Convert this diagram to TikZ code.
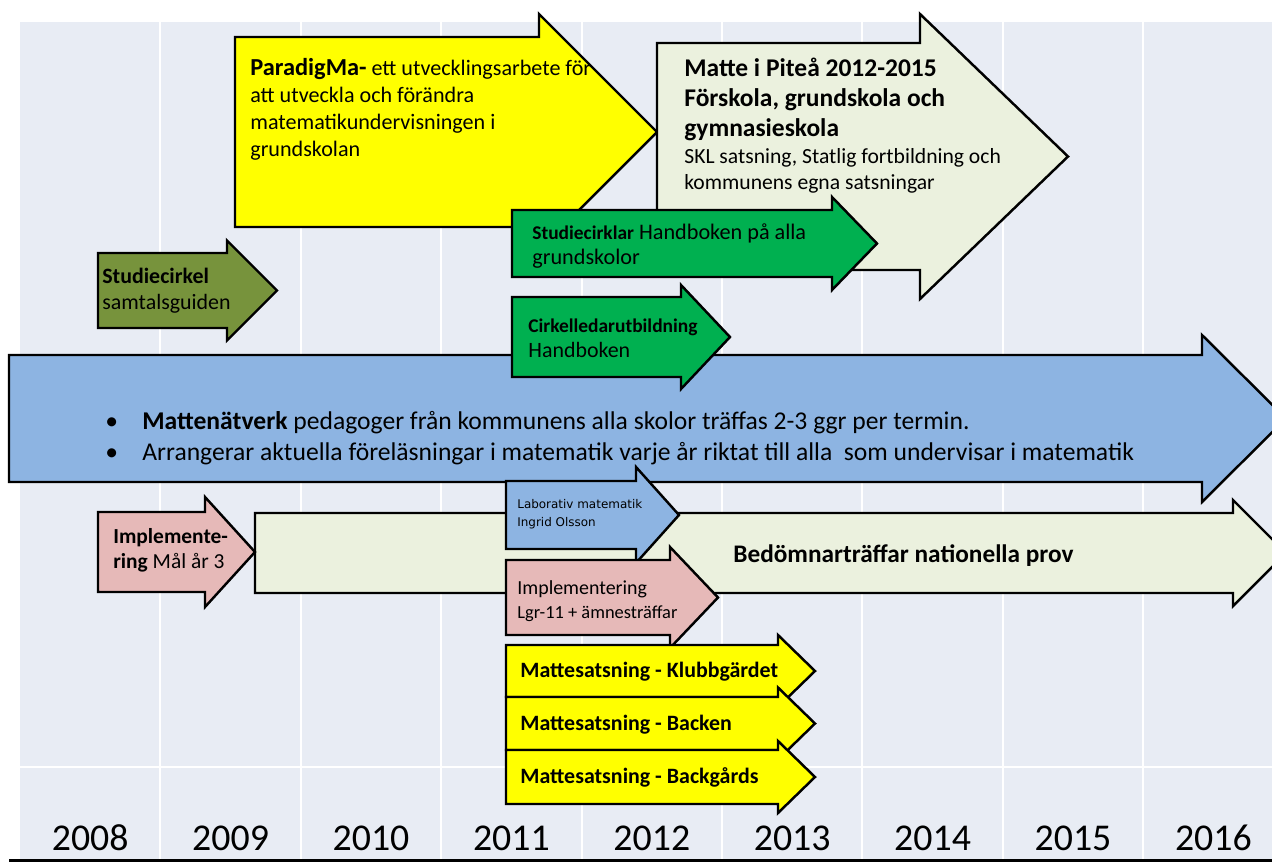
\documentclass[tikz,border=0pt]{standalone}
\usepackage{fontspec}
\setmainfont{Carlito}
\newfontfamily\labfont{DejaVu Sans}
\usepackage{tikz}

\definecolor{plotbg}{RGB}{232,236,244}
\definecolor{paryellow}{RGB}{255,255,0}
\definecolor{pitebeige}{RGB}{235,241,222}
\definecolor{cirkgreen}{RGB}{0,176,80}
\definecolor{olivegreen}{RGB}{119,147,60}
\definecolor{netblue}{RGB}{141,180,226}
\definecolor{implpink}{RGB}{230,185,184}

% font size given in pixels of the picture (1px = 0.02cm)
\newcommand{\fpx}[2]{\fontsize{\fpeval{#1*0.5669}}{\fpeval{#2*0.5669}}\selectfont}
% block arrow: [style]{left}{top}{bottom}{head x}{head half height}{tip x}
\newcommand{\tlarrow}[7][]{%
  \pgfmathsetmacro\arrmid{(#3+#4)/2}%
  \draw[arrowbox,#1] (#2,#3) -- (#5,#3) -- (#5,\arrmid-#6) -- (#7,\arrmid)
    -- (#5,\arrmid+#6) -- (#5,#4) -- (#2,#4) -- cycle;}
\newcommand{\blt}{\makebox[0.74cm][l]{\textbullet}}

\begin{document}
\begin{tikzpicture}[x=0.02cm, y=-0.02cm,
  arrowbox/.style={draw=black, line width=1.4pt, line join=miter},
  gridline/.style={draw=white, line width=1.1pt},
  txt/.style={inner sep=0pt, anchor=north west, align=left, text=black},
  oneline/.style={inner sep=0pt, anchor=base west, text=black},
  yearlabel/.style={inner sep=0pt, anchor=base, font=\fpx{38}{40}},
]
\useasboundingbox (0,0) rectangle (1272,863);
\clip (0,0) rectangle (1272,863);

%% plot area
\fill[plotbg] (20,22) rectangle (1272,860);
\foreach \k in {0,...,7}
  \draw[gridline] ({160.4+140.4*\k},22) -- ({160.4+140.4*\k},860);
\draw[gridline] (20,767) -- (1272,767);

%% Studiecirkel
\tlarrow[fill=olivegreen]{98}{253}{328}{227}{50}{277}
\node[txt, font=\fpx{22}{26}] (cirkel) at (102,268) {\textbf{Studiecirkel}\\samtalsguiden};

%% ParadigMa
\tlarrow[fill=paryellow]{235}{37}{227}{539}{118}{657}
\node[txt, font=\fpx{22.2}{27}] (paradigma) at (250,58)
  {{\bfseries\fpx{24.5}{27}ParadigMa-} ett utvecklingsarbete för\\att utveckla och förändra\\matematikundervisningen i\\grundskolan};

%% Matte i Pitea
\tlarrow[fill=pitebeige]{657}{43}{270}{920}{142.5}{1068}
\node[txt, font=\bfseries\fpx{25.6}{30}] (matte) at (684,57.8) {Matte i Piteå 2012-2015\\Förskola, grundskola och\\gymnasieskola};
\node[txt, font=\fpx{21.7}{26}] (mattesub) at (684,148.3) {SKL satsning, Statlig fortbildning och\\kommunens egna satsningar};

%% Studiecirklar
\tlarrow[fill=cirkgreen]{512}{210}{277}{832}{46.5}{877}
\node[txt, font=\fpx{22.3}{26}] (studiecirklar) at (532,223)
  {{\bfseries\fpx{19.5}{26}Studiecirklar} Handboken på alla\\grundskolor};

%% Mattenatverk
\tlarrow[fill=netblue]{9}{355}{482}{1202}{83.5}{1286}
\node[txt, font=\fpx{25.7}{31}] (natverk) at (105,410.7)
  {\blt\textbf{Mattenätverk} pedagoger från kommunens alla skolor träffas 2-3 ggr per termin.\\
   \blt Arrangerar aktuella föreläsningar i matematik varje år riktat till alla\ \ som undervisar i matematik};

%% Cirkelledarutbildning
\tlarrow[fill=cirkgreen]{512}{297}{377}{681}{52}{730}
\node[txt, font=\fpx{22}{25}] (ledare) at (528,319) {{\bfseries\fpx{19.5}{25}Cirkelledarutbildning}\\Handboken};

%% Bedomnartraffar
\tlarrow[fill=pitebeige]{255}{513}{593}{1233}{53}{1286}
\node[oneline, font=\bfseries\fpx{25.4}{28}] (bedomnar) at (733,562.6) {Bedömnarträffar nationella prov};

%% Implementering Mal ar 3
\tlarrow[fill=implpink]{98}{512}{592}{205}{55}{255}
\node[txt, font=\fpx{21.5}{25}] (implmal) at (113,528.3) {\textbf{Implemente-}\\\textbf{ring} Mål år 3};

%% Laborativ matematik
\tlarrow[fill=netblue]{506}{481}{549}{636}{48}{679}
\node[txt, font=\labfont\fpx{12}{18}] (laborativ) at (517,499) {Laborativ matematik\\Ingrid Olsson};

%% Implementering Lgr-11
\tlarrow[fill=implpink]{506}{560}{635}{670}{50.5}{718}
\node[txt, font=\fpx{18.5}{24}] (impllgr) at (517,580) {{\fpx{20}{24}Implementering}\\Lgr-11 + ämnesträffar};

%% Mattesatsning
\foreach \ytop/\ybot/\skola [count=\i] in {645/697/Klubbgärdet,697/750/Backen,750/804/Backgårds} {
  \tlarrow[fill=paryellow]{506}{\ytop}{\ybot}{778}{36}{815}
  \node[oneline, font=\bfseries\fpx{22}{26}] (satsning\i) at (520,{(\ytop+\ybot)/2+6.6}) {Mattesatsning - \skola};
}

%% year axis
\draw[line width=1.7pt] (9,860) -- (1272,860);
\foreach \yr [count=\i from 0] in {2008,...,2016}
  \node[yearlabel] (year\yr) at ({90.2+140.4*\i},850) {\yr};

\end{tikzpicture}
\end{document}
